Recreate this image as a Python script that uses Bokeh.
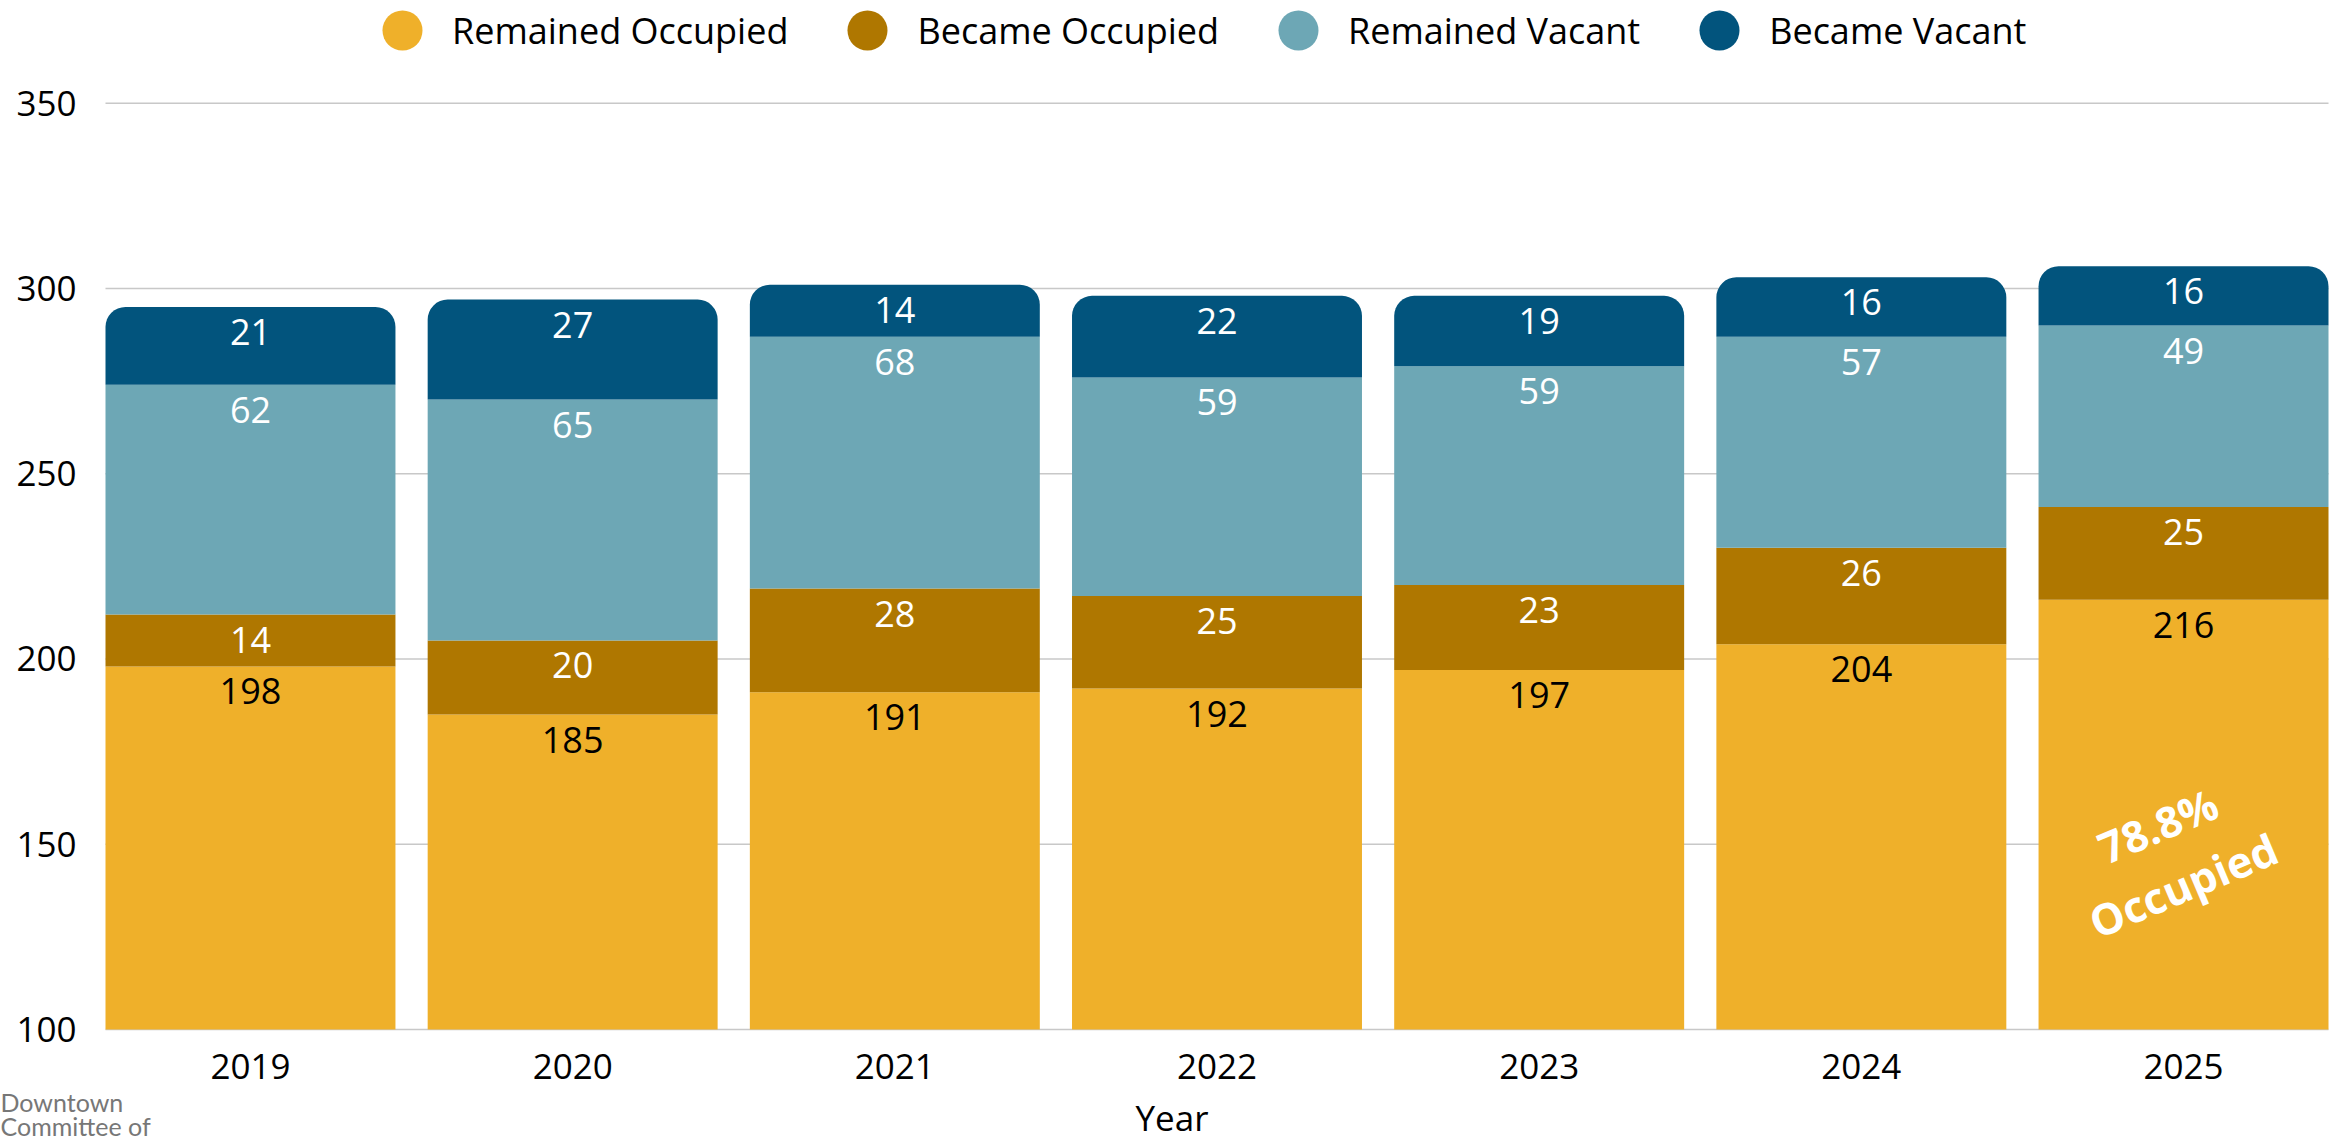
import numpy as np
from bokeh.plotting import figure
from bokeh.models import (Range1d, FixedTicker, Legend, LegendItem, Label, ColumnDataSource)
from bokeh.core.properties import value
from bokeh.embed import file_html
from bokeh.resources import INLINE

years = ["2019", "2020", "2021", "2022", "2023", "2024", "2025"]
remained_occupied = [198, 185, 191, 192, 197, 204, 216]
became_occupied = [14, 20, 28, 25, 23, 26, 25]
remained_vacant = [62, 65, 68, 59, 59, 57, 49]
became_vacant = [21, 27, 14, 22, 19, 16, 16]

series_names = ["Remained Occupied", "Became Occupied", "Remained Vacant", "Became Vacant"]
series_values = [remained_occupied, became_occupied, remained_vacant, became_vacant]
colors = ["#EFB02A", "#AF7700", "#6DA7B5", "#02547D"]
label_colors = ["#000000", "#FFFFFF", "#FFFFFF", "#FFFFFF"]
y_ticks = [100, 150, 200, 250, 300, 350]
annotation_text = "78.8%\nOccupied"
annotation_value = 147
logo_text = "Downtown\nCommittee of"

FONT = "Open Sans"
BAR_W = 0.9
W, H = 2343, 1140

# category centres on a numeric axis
xc = np.arange(len(years)) + 0.5
x_lo = xc[0] - BAR_W / 2
x_hi = xc[-1] + BAR_W / 2
ppx = (2328 - 105) / (x_hi - x_lo)          # pixels per category unit
ppy = (1029 - 102.7) / (y_ticks[-1] - y_ticks[0])  # pixels per value unit
x_range = Range1d(x_lo - 105 / ppx, x_hi + (W - 2328) / ppx)
y_range = Range1d(y_ticks[0] - (H - 1029) / ppy, y_ticks[-1] + 102.7 / ppy)

p = figure(x_range=x_range, y_range=y_range, width=W, height=H,
           min_border=0, min_border_left=0, min_border_right=0,
           min_border_top=0, min_border_bottom=0,
           output_backend="svg", toolbar_location=None, tools="",
           background_fill_color="white", border_fill_color="white")
p.outline_line_color = None
p.xgrid.visible = False
p.ygrid.visible = False

# horizontal grid lines across the bar area
p.segment(x0=[x_lo] * len(y_ticks), x1=[x_hi] * len(y_ticks), y0=y_ticks, y1=y_ticks,
          line_color="#C8C8C8", line_width=1.5)

# stacked bars
bottoms = np.full(len(years), float(y_ticks[0]))
for i, (name, vals, col, lc) in enumerate(zip(series_names, series_values, colors, label_colors)):
    vals = np.array(vals, dtype=float)
    base = np.zeros(len(years)) if i == 0 else bottoms
    tops = base + vals
    bot = bottoms if i == 0 else base
    src = ColumnDataSource(dict(x=xc, bottom=bot.copy(), top=tops, v=[str(int(v)) for v in vals]))
    kw = {}
    if i == len(series_names) - 1:
        kw["border_radius"] = (20, 20, 0, 0)
    p.vbar(x="x", bottom="bottom", top="top", width=BAR_W, source=src,
           fill_color=col, line_color=None, **kw)
    p.text(x="x", y="top", text="v", source=src, text_align="center", text_baseline="middle",
           y_offset=25, text_color=lc, text_font=value(FONT), text_font_size="36px")
    bottoms = tops

# annotation on last bar
p.text(x=[xc[-1]], y=[annotation_value], text=[annotation_text], angle=np.deg2rad(23),
       text_align="center", text_baseline="middle", x_offset=-13,
       text_color="white", text_font=value(FONT), text_font_size="43px",
       text_font_style="bold", text_line_height=1.1)

# legend with circle markers
items = []
for name, col in zip(series_names, colors):
    r = p.scatter(x=[xc[0]], y=[0], marker="circle", fill_color=col, line_color=None, size=1)
    items.append(LegendItem(label=name, renderers=[r]))
legend = Legend(items=items, orientation="horizontal", location=(352, H - 80),
                glyph_width=100, glyph_height=100, label_standoff=0, spacing=29,
                padding=0, margin=0, border_line_color=None, background_fill_alpha=0,
                label_text_font=FONT, label_text_font_size="36px", label_text_color="#000000",
                label_text_baseline="middle")
p.add_layout(legend, "center")

# axes drawn at fixed locations inside the frame
p.yaxis.fixed_location = x_lo
p.xaxis.fixed_location = y_ticks[0]
p.yaxis.ticker = FixedTicker(ticks=y_ticks)
p.xaxis.ticker = FixedTicker(ticks=list(xc))
p.xaxis.major_label_overrides = {float(x): y for x, y in zip(xc, years)}
for ax in (p.xaxis, p.yaxis):
    ax.axis_line_color = None
    ax.major_tick_line_color = None
    ax.minor_tick_line_color = None
    ax.major_tick_out = 0
    ax.major_tick_in = 0
    ax.major_label_text_font = FONT
    ax.major_label_text_color = "#000000"
p.yaxis.major_label_text_font_size = "35px"
p.yaxis.major_label_standoff = 29
p.xaxis.major_label_text_font_size = "35px"
p.xaxis.major_label_standoff = 24
p.xaxis.axis_label = "Year"
p.xaxis.axis_label_text_font = FONT
p.xaxis.axis_label_text_font_size = "35px"
p.xaxis.axis_label_text_font_style = "normal"
p.xaxis.axis_label_text_color = "#000000"
p.xaxis.axis_label_standoff = 12

# logo text, bottom-left
p.add_layout(Label(x=0, y=54, x_units="screen", y_units="screen",
                   text=logo_text, text_font="Lato", text_font_size="25px",
                   text_color="#777777", text_baseline="top", text_align="left",
                   text_line_height=0.82))

open("out.html", "w").write(file_html(p, INLINE))
